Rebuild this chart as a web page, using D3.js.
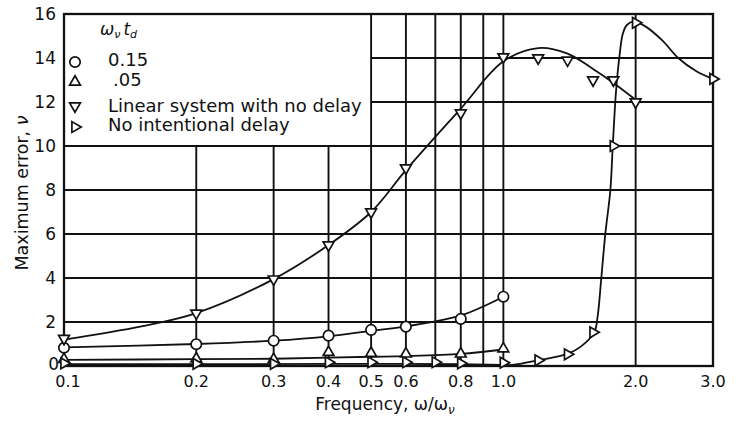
<!DOCTYPE html>
<html>
<head>
<meta charset="utf-8">
<script src="https://d3js.org/d3.v7.min.js"></script>
<style>
  body { margin: 0; background: #fff; }
  svg { display: block; }
  text { font-family: "DejaVu Sans", sans-serif; fill: #111; }
</style>
</head>
<body>
<svg id="chart" width="741" height="421"></svg>
<script>
// ---------- data ----------
const xTickValues = [0.1, 0.2, 0.3, 0.4, 0.5, 0.6, 0.8, 1.0, 2.0, 3.0];
const xTickLabels = ["0.1", "0.2", "0.3", "0.4", "0.5", "0.6", "0.8", "1.0", "2.0", "3.0"];
const yTickValues = [0, 2, 4, 6, 8, 10, 12, 14, 16];
const vGridLower = [0.2, 0.3, 0.4];                       // only below legend
const vGridFull = [0.5, 0.6, 0.7, 0.8, 0.9, 1.0, 2.0];
const hGridFull = [2, 4, 6, 8, 10];
const hGridRight = [12, 14];                               // right of legend

// series: omega_v t_d = 0.15 (circles)
const circFreq = [0.1, 0.2, 0.3, 0.4, 0.5, 0.6, 0.8, 1.0];
const circVal  = [0.83, 0.99, 1.15, 1.38, 1.64, 1.79, 2.14, 3.15];
const circCurveFreq = [0.1, 0.2, 0.3, 0.4, 0.5, 0.6, 0.8, 1.0];
const circCurveVal  = [0.85, 1.0, 1.15, 1.35, 1.6, 1.8, 2.3, 3.15];

// series: .05 (up triangles)
const upFreq = [0.1, 0.2, 0.3, 0.4, 0.5, 0.6, 0.8, 1.0];
const upVal  = [0.3, 0.33, 0.3, 0.62, 0.58, 0.55, 0.55, 0.78];
const upCurveFreq = [0.1, 0.2, 0.3, 0.4, 0.5, 0.6, 0.8, 1.0];
const upCurveVal  = [0.28, 0.31, 0.33, 0.38, 0.42, 0.45, 0.55, 0.75];

// series: linear system with no delay (down triangles)
const downFreq = [0.1, 0.2, 0.3, 0.4, 0.5, 0.6, 0.8, 1.0, 1.2, 1.4, 1.6, 1.78, 2.0];
const downVal  = [1.25, 2.4, 3.95, 5.5, 7.0, 9.0, 11.5, 14.05, 14.0, 13.9, 13.0, 13.0, 12.0];
const downCurveFreq = [0.1, 0.15, 0.2, 0.3, 0.4, 0.5, 0.6, 0.8, 1.0, 1.2, 1.4, 1.6, 1.8, 2.0];
const downCurveVal  = [1.2, 1.8, 2.4, 3.95, 5.5, 7.0, 8.9, 11.7, 13.85, 14.45, 14.2, 13.5, 12.8, 12.1];

// series: no intentional delay (right triangles)
const rightFreq = [0.1, 0.2, 0.3, 0.4, 0.5, 0.6, 0.7, 0.8, 1.0, 1.2, 1.4, 1.6, 1.78, 2.0, 3.0];
const rightVal  = [0.12, 0.1, 0.1, 0.17, 0.17, 0.17, 0.17, 0.12, 0.15, 0.26, 0.53, 1.53, 10.0, 15.6, 13.05];
const rightCurveFreq = [0.1, 0.2, 0.4, 0.6, 0.8, 1.0, 1.05, 1.2, 1.4, 1.5, 1.61, 1.64, 1.669, 1.707, 1.752, 1.774, 1.805, 1.837, 1.87, 1.91, 1.98, 2.1, 2.3, 2.5, 2.75, 3.0];
const rightCurveVal  = [0.08, 0.08, 0.1, 0.1, 0.08, 0.05, 0.05, 0.26, 0.55, 0.88, 1.53, 2.3, 3.9, 6.05, 8.0, 10.0, 12.5, 14.06, 15.1, 15.5, 15.65, 15.45, 14.8, 14.0, 13.4, 13.05];

const legendLabels = ["0.15", ".05", "Linear system with no delay", "No intentional delay"];

// ---------- drawing ----------
const svg = d3.select("#chart");
const x = d3.scaleLog().domain([0.1, 3.0]).range([64, 713]);
const y = d3.scaleLinear().domain([0, 16]).range([366, 14]);
const ink = "#111";

const grid = svg.append("g").attr("stroke", ink).attr("stroke-width", 1.9);
vGridLower.forEach(v => grid.append("line").attr("x1", x(v)).attr("x2", x(v)).attr("y1", y(0)).attr("y2", y(10)));
vGridFull.forEach(v => grid.append("line").attr("x1", x(v)).attr("x2", x(v)).attr("y1", y(0)).attr("y2", y(16)));
hGridFull.forEach(v => grid.append("line").attr("x1", x(0.1)).attr("x2", x(3.0)).attr("y1", y(v)).attr("y2", y(v)));
hGridRight.forEach(v => grid.append("line").attr("x1", x(0.5)).attr("x2", x(3.0)).attr("y1", y(v)).attr("y2", y(v)));

// frame
svg.append("rect")
  .attr("x", x(0.1)).attr("y", y(16))
  .attr("width", x(3.0) - x(0.1)).attr("height", y(0) - y(16))
  .attr("fill", "none").attr("stroke", ink).attr("stroke-width", 2.3);

// curves
const line = d3.line().curve(d3.curveCatmullRom.alpha(0.5));
function drawCurve(fs, vs) {
  svg.append("path")
    .attr("d", line(fs.map((f, i) => [x(f), y(vs[i])])))
    .attr("fill", "none").attr("stroke", ink).attr("stroke-width", 1.8);
}
drawCurve(circCurveFreq, circCurveVal);
drawCurve(upCurveFreq, upCurveVal);
drawCurve(downCurveFreq, downCurveVal);
drawCurve(rightCurveFreq, rightCurveVal);

// markers
const tri = d3.symbol().type(d3.symbolTriangle).size(50);
function drawMarker(g, kind, cx, cy) {
  if (kind === "circle") {
    g.append("circle").attr("cx", cx).attr("cy", cy).attr("r", 5.2)
      .attr("fill", "#fff").attr("stroke", ink).attr("stroke-width", 1.7);
  } else {
    const rot = kind === "up" ? 0 : kind === "down" ? 180 : 90;
    g.append("path").attr("d", tri())
      .attr("transform", `translate(${cx},${cy}) rotate(${rot})`)
      .attr("fill", "#fff").attr("stroke", ink).attr("stroke-width", 1.7);
  }
}
const mk = svg.append("g");
circFreq.forEach((f, i) => drawMarker(mk, "circle", x(f), y(circVal[i])));
upFreq.forEach((f, i) => drawMarker(mk, "up", x(f), y(upVal[i])));
downFreq.forEach((f, i) => drawMarker(mk, "down", x(f), y(downVal[i])));
rightFreq.forEach((f, i) => drawMarker(mk, "right", x(f), y(rightVal[i])));

// x tick labels
svg.append("g").selectAll("text").data(xTickValues).join("text")
  .attr("x", (d, i) => x(d) + (i === 0 ? 4 : 0))
  .attr("y", 387)
  .attr("text-anchor", "middle")
  .attr("font-size", 16)
  .text((d, i) => xTickLabels[i]);

// y tick labels
svg.append("g").selectAll("text").data(yTickValues).join("text")
  .attr("x", d => d === 0 ? 59 : 56)
  .attr("y", d => y(d) - (d === 0 ? 2 : 0))
  .attr("dy", "0.36em")
  .attr("text-anchor", "end")
  .attr("font-size", 17)
  .text(d => d);

// axis titles
const xt = svg.append("text").attr("x", 385).attr("y", 410).attr("text-anchor", "middle").attr("font-size", 17);
xt.append("tspan").text("Frequency, ω/ω");
xt.append("tspan").attr("font-size", 12).attr("dy", 4).attr("font-style", "italic").text("ν");

const yt = svg.append("text").attr("transform", "translate(28,193) rotate(-90)").attr("text-anchor", "middle").attr("font-size", 17.5);
yt.append("tspan").text("Maximum error, ");
yt.append("tspan").attr("font-style", "italic").text("ν");

// legend
const lg = svg.append("g");
const hdr = lg.append("text").attr("x", 100).attr("y", 35).attr("font-size", 17).attr("font-style", "italic");
hdr.append("tspan").text("ω");
hdr.append("tspan").attr("font-size", 11).attr("dy", 3).text("ν");
hdr.append("tspan").attr("dy", -3).attr("dx", 3).text("t");
hdr.append("tspan").attr("font-size", 11).attr("dy", 3).text("d");

const legKinds = ["circle", "up", "down", "right"];
const legY = [62, 82, 106, 127];
const legTextX = [108, 113, 108, 108];
const legBase = [66, 86, 112, 131];
legKinds.forEach((k, i) => {
  drawMarker(lg, k, 75, legY[i]);
  lg.append("text").attr("x", legTextX[i]).attr("y", legBase[i]).attr("font-size", 18).text(legendLabels[i]);
});
</script>
</body>
</html>
